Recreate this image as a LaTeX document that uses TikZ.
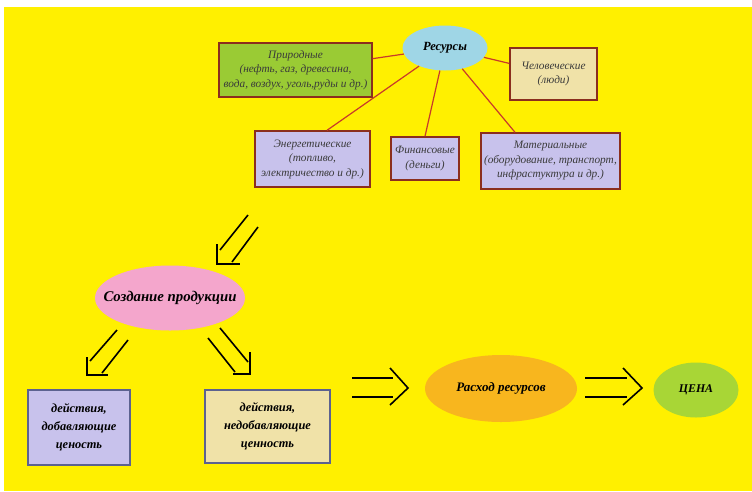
\documentclass[tikz,border=0pt]{standalone}
\usepackage{fontspec}
\setmainfont{Liberation Serif}
\usetikzlibrary{shapes.geometric,calc}
\definecolor{bgyel}{HTML}{FFF000}
\definecolor{boxred}{HTML}{8B2E1E}
\definecolor{linered}{HTML}{C83A2A}
\definecolor{natgreen}{HTML}{9ACB34}
\definecolor{beige}{HTML}{F0E2A8}
\definecolor{lav}{HTML}{C8C2EC}
\definecolor{skyb}{HTML}{9FD6E6}
\definecolor{pinkc}{HTML}{F4A6CC}
\definecolor{orangec}{HTML}{F8B61E}
\definecolor{greenc}{HTML}{A8D636}
\definecolor{slate}{HTML}{5C6290}
\definecolor{txt}{HTML}{3A3A3A}
\tikzset{
  resbox/.style={draw=boxred, line width=1.4pt, align=center, inner sep=1pt,
    font=\fontsize{11.3}{14.5}\selectfont\itshape, text=txt},
  actbox/.style={draw=slate, line width=1.6pt, align=center, inner sep=2pt,
    font=\fontsize{12.4}{18}\selectfont\bfseries\itshape, text=black},
  oval/.style={ellipse, inner sep=0pt, font=\bfseries\itshape, text=black},
  link/.style={draw=linered, line width=1.2pt},
  dbl/.style={draw=black, line width=1.6pt}
}
\begin{document}
\begin{tikzpicture}[x=1pt,y=-1pt]
\useasboundingbox (0,0) rectangle (752,491);
\fill[bgyel] (4,7) rectangle (752,491);

% top ellipse and resource boxes
\node[oval, fill=skyb, minimum width=85, minimum height=45, inner xsep=-4pt,
  font=\fontsize{12.5}{14}\selectfont\bfseries\itshape] (res) at (445,48) {Ресурсы};
\node[resbox, fill=natgreen, minimum width=153, minimum height=54] (nat) at (295.5,70)
  {Природные\\(нефть, газ, древесина,\\вода, воздух, уголь,руды и др.)};
\node[resbox, fill=beige, minimum width=87, minimum height=52] (hum) at (553.5,74)
  {Человеческие\\(люди)};
\node[resbox, fill=lav, minimum width=115, minimum height=56] (en) at (312.5,159)
  {Энергетические\\(топливо,\\электричество и др.)};
\node[resbox, fill=lav, minimum width=68, minimum height=43] (fin) at (425,158.5)
  {Финансовые\\(деньги)};
\node[resbox, fill=lav, minimum width=139, minimum height=56] (mat) at (550.5,161)
  {Материальные\\(оборудование, транспорт,\\инфрастуктура и др.)};

\draw[link] (nat) -- (res);
\draw[link] (res) -- (hum);
\draw[link] ([xshift=14.5pt]en.north) -- (res);
\draw[link] (fin.north) -- (res);
\draw[link] ([xshift=-35.5pt]mat.north) -- (res);

% arrow to production
\draw[dbl] (248,215) -- (220,250);
\draw[dbl] (258,227) -- (232,262);
\draw[dbl] (217,244) -- (217,264) -- (240,264);

\node[oval, fill=pinkc, minimum width=150, minimum height=65, inner xsep=-14pt,
  font=\fontsize{14.8}{17}\selectfont\bfseries\itshape] (prod) at (170,298) {Создание продукции};

% arrows to activity boxes
\draw[dbl] (117,330) -- (90,361);
\draw[dbl] (128,340) -- (102,373);
\draw[dbl] (87,357) -- (87,375) -- (108,375);

\draw[dbl] (220,328) -- (248,362);
\draw[dbl] (208,338) -- (235,372);
\draw[dbl] (250,352) -- (250,374) -- (233,374);

\node[actbox, fill=lav, minimum width=102, minimum height=75] (add) at (79,427.5)
  {действия,\\добавляющие\\ценость};
\node[actbox, fill=beige, minimum width=125, minimum height=73] (nonadd) at (267.5,426.5)
  {действия,\\недобавляющие\\ценность};

% right chain
\draw[dbl] (352,378) -- (393,378);
\draw[dbl] (352,397) -- (393,397);
\draw[dbl] (390,368) -- (408,388) -- (390,405);

\node[oval, fill=orangec, minimum width=152, minimum height=67, inner xsep=-4pt,
  font=\fontsize{13}{15}\selectfont\bfseries\itshape] (cost) at (501,388.5) {Расход ресурсов};

\draw[dbl] (585,378) -- (627,378);
\draw[dbl] (585,397) -- (627,397);
\draw[dbl] (623,368) -- (642,388) -- (623,405);

\node[oval, fill=greenc, minimum width=85, minimum height=55,
  font=\fontsize{11.8}{13}\selectfont\bfseries\itshape] (price) at (696,390) {ЦЕНА};
\end{tikzpicture}
\end{document}
